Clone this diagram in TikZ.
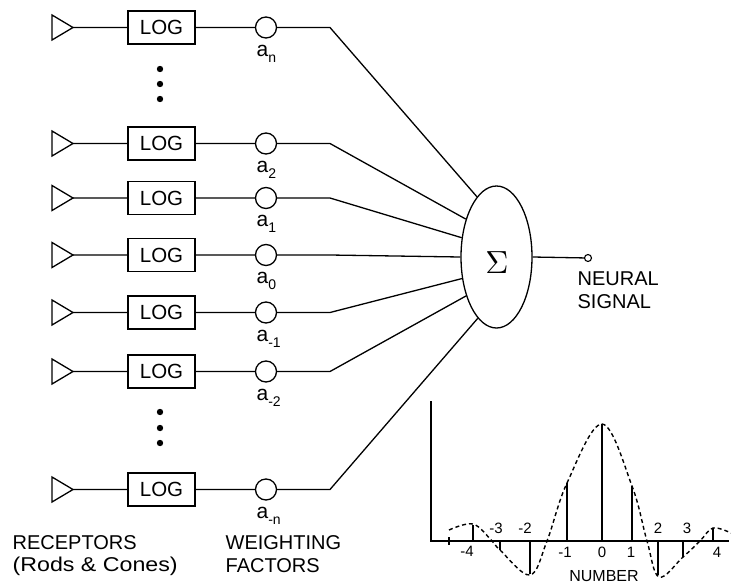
\documentclass[tikz,border=0pt]{standalone}
\usepackage{fontspec}
\setmainfont{Liberation Sans}
\usetikzlibrary{shapes.geometric}
\begin{document}
\begin{tikzpicture}[x=1pt,y=-1pt, line width=1.3pt,
  logbox/.style={draw, minimum width=67pt, minimum height=33pt, inner sep=0pt, font=\fontsize{20.5}{20}\selectfont},
  wt/.style={draw, circle, minimum size=21pt, inner sep=0pt},
  lab/.style={anchor=north west, inner sep=0pt, font=\fontsize{21}{20}\selectfont},
  txt/.style={anchor=base west, inner sep=0pt, font=\fontsize{20}{20}\selectfont},
  num/.style={inner sep=0pt, font=\fontsize{15}{15}\selectfont},
  dashcurve/.style={dash pattern=on 4pt off 3pt, line width=1.4pt}]
\useasboundingbox (0,0) rectangle (731,584);

% summing node
\node[draw, ellipse, minimum width=71pt, minimum height=142pt, inner sep=0pt] (S) at (496.5,257) {};
\node[inner sep=0pt] (sig) at (497,263) {\scalebox{3.2}{$\Sigma$}};

% channels
\foreach \nm/\y/\sub/\ang in {n/27.5/n/108, 2/143.5/2/129, 1/198/1/151, 0/255/0/180, m1/312.5/{-1}/212, m2/371.5/{-2}/232, mn/489.5/{-n}/253}{
  \coordinate (tip\nm) at (73,\y);
  \draw (52,\y-12.5) -- (tip\nm) -- (52,\y+12.5) -- cycle;
  \node[logbox] (log\nm) at (161.5,\y) {LOG};
  \node[wt] (w\nm) at (266,\y) {};
  \node[lab] (a\nm) at (256,\y+17) {a\raisebox{-6pt}{\fontsize{14}{14}\selectfont\sub}};
  \coordinate (b\nm) at (330,\y);
  \draw (tip\nm) -- (log\nm) -- (w\nm) -- (b\nm) -- (S.\ang);
}

% ellipsis dots
\foreach \yy in {69,84,99,412,428,443}{\fill (160,\yy) circle (3.2);}

% output
\node[draw, circle, minimum size=7pt, inner sep=0pt, line width=1.1pt] (out) at (588,258) {};
\draw (S.east) -- (out);
\node[txt] (neural) at (577,285) {NEURAL};
\node[txt] (signal) at (577,308) {SIGNAL};

% bottom texts
\node[txt] (rec) at (12,549) {RECEPTORS};
\node[txt] (rods) at (12,571) {\scalebox{1.16}[1]{(Rods \& Cones)}};
\node[txt] (weight) at (225,549) {WEIGHTING};
\node[txt] (fact) at (225,572) {FACTORS};

% graph
\coordinate (ytop) at (431,401);
\coordinate (o) at (431,541);
\coordinate (xend) at (729,541);
\draw (ytop) -- (o) -- (xend);
\draw (449,537) -- (449,545);
\foreach \x/\h in {473/525, 500/550, 530/574, 567/483, 602/424, 632/486, 658/575, 683/557, 713/528}{
  \draw (\x,541) -- (\x,\h);
}
\draw[dashcurve] plot[smooth, tension=0.6] coordinates {(449,530) (473,524) (492,541) (500,550) (530,575) (547,541) (567,483) (602,424) (632,486) (647,541) (659,577) (683,557) (700,541) (713,528) (731,533)};

\node[num] (lm4) at (467,551) {-4};
\node[num] (lm3) at (496,528) {-3};
\node[num] (lm2) at (525,528) {-2};
\node[num] (lm1) at (565,552) {-1};
\node[num] (l0) at (602,552) {0};
\node[num] (l1) at (631,552) {1};
\node[num] (l2) at (658,528) {2};
\node[num] (l3) at (687,528) {3};
\node[num] (l4) at (717,552) {4};
\node[inner sep=0pt, font=\fontsize{16}{16}\selectfont] (numlab) at (604,576) {NUMBER};
\end{tikzpicture}
\end{document}
